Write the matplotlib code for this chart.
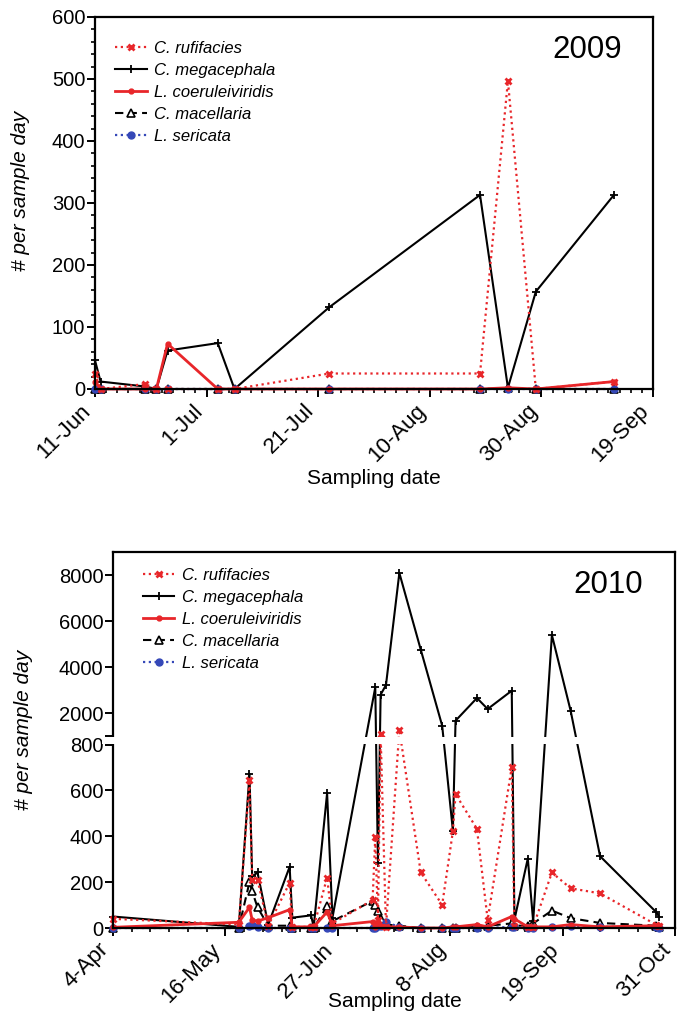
import numpy as np
import matplotlib
matplotlib.use('Agg')
import matplotlib.pyplot as plt
import matplotlib.dates as mdates
from matplotlib.patches import Rectangle
from matplotlib.ticker import FixedLocator, NullLocator
from matplotlib.transforms import blended_transform_factory

plt.rcParams['font.family'] = ['Liberation Sans', 'DejaVu Sans']

nan = np.nan
species = ['C. rufifacies', 'C. megacephala', 'L. coeruleiviridis', 'C. macellaria', 'L. sericata']

# ---------------- 2009 ----------------
dates_2009 = ['2009-06-11', '2009-06-12', '2009-06-20', '2009-06-22', '2009-06-24', '2009-07-03',
              '2009-07-06', '2009-07-23', '2009-08-19', '2009-08-24', '2009-08-29', '2009-09-12']
rufifacies_2009 = [25, 0, 8, 0, 0, 0, 0, 25, 25, 497, 0, 12]
megacephala_2009 = [46, 12, 4, 0, 62, 74, 0, 132, 313, 2, 157, 313]
coeruleiviridis_2009 = [12, 0, 0, 0, 73, 0, 0, 0, 0, 2, 0, 12]
macellaria_2009 = [0, 0, 0, 0, 0, 0, 0, 0, 0, 1, 0, 0]
sericata_2009 = [0, 0, 0, 0, 0, 0, 0, 0, 0, 0, 0, 0]
xticks_2009 = ['2009-06-11', '2009-07-01', '2009-07-21', '2009-08-10', '2009-08-30', '2009-09-19']
xticklabels_2009 = ['11-Jun', '1-Jul', '21-Jul', '10-Aug', '30-Aug', '19-Sep']
yticks_2009 = [0, 100, 200, 300, 400, 500, 600]

# ---------------- 2010 ----------------
dates_2010 = ['2010-04-04', '2010-05-21', '2010-05-25', '2010-05-26', '2010-05-28', '2010-06-01',
              '2010-06-09', '2010-06-10', '2010-06-17', '2010-06-18', '2010-06-23', '2010-06-25',
              '2010-07-10', '2010-07-11', '2010-07-12', '2010-07-13', '2010-07-15', '2010-07-20',
              '2010-07-28', '2010-08-05', '2010-08-09', '2010-08-10', '2010-08-18', '2010-08-22',
              '2010-08-31', '2010-09-01', '2010-09-06', '2010-09-08', '2010-09-15', '2010-09-22',
              '2010-10-03', '2010-10-24', '2010-10-25']
megacephala_2010 = [50, 5, 672, 225, 242, 15, 267, 45, 55, 5, 588, 45,
                    nan, 3116, 284, 2797, 3217, 8087, 4754, 1449, 425, 1667, 2652, 2174,
                    2971, 36, 303, 29, 5391, 2101, 313, 69, 50]
rufifacies_2010 = [40, 15, 644, 209, 209, 10, 197, 5, 5, 5, 220, 20,
                   122, 396, 36, 1090, 5, 1275, 242, 101, 421, 584, 432, 36,
                   702, 7, 5, 5, 242, 173, 151, 14, 7]
coeruleiviridis_2010 = [3, 25, 90, 35, 30, 45, 80, 5, 5, 5, 70, 10,
                        28, 5, 20, 10, 5, 5, 0, 0, 5, 5, 15, 5,
                        50, 40, 5, 5, 5, 15, 5, 10, 10]
macellaria_2010 = [0, 0, 200, 160, 90, 10, 10, 0, 0, 0, 95, 30,
                   118, 100, 75, 40, 15, 10, 0, 0, 0, 0, 5, 10,
                   20, 10, 10, 20, 76, 43, 22, 10, 5]
sericata_2010 = [0, 0, 10, 15, 5, 0, 0, 0, 0, 0, 0, 0,
                 0, 0, 10, 10, 25, 5, 0, 0, 0, 0, 0, 0,
                 5, 5, 0, 0, 5, 10, 5, 5, 0]
xticks_2010 = ['2010-04-04', '2010-05-16', '2010-06-27', '2010-08-08', '2010-09-19', '2010-10-31']
xticklabels_2010 = ['4-Apr', '16-May', '27-Jun', '8-Aug', '19-Sep', '31-Oct']
yticks_2010 = [0, 200, 400, 600, 800, 2000, 4000, 6000, 8000]
yticklabels_2010 = ['0', '200', '400', '600', '800', '2000', '4000', '6000', '8000']

# ---------------- styles ----------------
RED = '#e8262a'
BLUE = '#3548b8'
styles = {
    'C. rufifacies': dict(color=RED, ls=(0, (1, 1.6)), lw=1.6, marker='x', ms=5, mew=2.0, zorder=2.4),
    'C. megacephala': dict(color='black', ls='-', lw=1.5, marker='+', ms=6, mew=1.3, zorder=2.2),
    'L. coeruleiviridis': dict(color=RED, ls='-', lw=2.0, marker='o', ms=3.5, mew=1, zorder=2.5),
    'C. macellaria': dict(color='black', ls=(0, (4, 2.5)), lw=1.5, marker='^', ms=5.5, mew=1.2,
                          mfc='white', zorder=2.1),
    'L. sericata': dict(color=BLUE, ls=(0, (1, 1.6)), lw=1.6, marker='o', ms=5, mew=1, zorder=2.3),
}

fig = plt.figure(figsize=(6.78, 10.23), dpi=100)
W, H = 678.0, 1023.0


def add_axes(left, top, right, bottom):
    return fig.add_axes([left / W, 1 - bottom / H, (right - left) / W, (bottom - top) / H])


def plot_series(ax, dates, series_list):
    x = mdates.datestr2num(dates)
    handles = []
    for name, vals in zip(species, series_list):
        v = np.asarray(vals, float)
        m = np.isfinite(v)
        h, = ax.plot(x[m], v[m], clip_on=False, label=name, **styles[name])
        handles.append(h)
    return handles


def style_axes(ax, xticks, xticklabels, minor_step, start, end):
    for s in ax.spines.values():
        s.set_linewidth(1.6)
    xs = mdates.datestr2num(xticks)
    ax.xaxis.set_major_locator(FixedLocator(xs))
    ax.set_xticklabels(xticklabels, rotation=45, ha='right', va='top', rotation_mode='default',
                       fontsize=16)
    x0, x1 = mdates.datestr2num([start, end])
    ax.set_xlim(x0, x1)
    ax.xaxis.set_minor_locator(FixedLocator(np.arange(x0, x1 + 0.1, minor_step)))
    ax.tick_params(axis='both', which='major', length=6, width=1.4, direction='out')
    ax.tick_params(axis='y', which='major', labelsize=14.5)
    ax.tick_params(axis='both', which='minor', length=3, width=1.2, direction='out')
    ax.tick_params(axis='x', which='major', pad=2)
    ax.tick_params(axis='y', which='major', pad=1)


# ---------------- 2009 panel ----------------
ax1 = add_axes(95, 17, 653, 389)
h1 = plot_series(ax1, dates_2009, [rufifacies_2009, megacephala_2009, coeruleiviridis_2009,
                                   macellaria_2009, sericata_2009])
ax1.set_ylim(0, 600)
ax1.yaxis.set_major_locator(FixedLocator(yticks_2009))
ax1.yaxis.set_minor_locator(FixedLocator(np.arange(0, 601, 20)))
style_axes(ax1, xticks_2009, xticklabels_2009, 2, '2009-06-11', '2009-09-19')
ax1.set_ylabel('# per sample day', fontsize=15, style='italic')
ax1.yaxis.set_label_coords(-0.116, 0.532)
ax1.set_xlabel('Sampling date', fontsize=15)
ax1.xaxis.set_label_coords(0.5, -0.215)
ax1.text(0.882, 0.91, '2009', transform=ax1.transAxes, fontsize=22.5, ha='center', va='center')
ax1.legend(handles=h1, loc='upper left', bbox_to_anchor=(0.036, 0.935), frameon=False,
           prop=dict(size=12, style='italic'), handlelength=1.9, handletextpad=0.45,
           labelspacing=0.42, borderpad=0, borderaxespad=0, numpoints=1)

# ---------------- 2010 panel (broken y axis) ----------------
GAP = 37.0
UP = 0.1003


def fwd(y):
    y = np.asarray(y, float)
    return np.where(y <= 800, y,
                    np.where(y < 1000, 800 + (y - 800) * GAP / 200.0, 800 + GAP + (y - 1000) * UP))


def inv(t):
    t = np.asarray(t, float)
    return np.where(t <= 800, t,
                    np.where(t < 800 + GAP, 800 + (t - 800) * 200.0 / GAP, 1000 + (t - 800 - GAP) / UP))


ax2 = add_axes(113, 552, 675, 928)
ax2.set_yscale('function', functions=(fwd, inv))
h2 = plot_series(ax2, dates_2010, [rufifacies_2010, megacephala_2010, coeruleiviridis_2010,
                                   macellaria_2010, sericata_2010])
ax2.set_ylim(0, 9000)
ax2.yaxis.set_major_locator(FixedLocator(yticks_2010 + [1000]))
ax2.set_yticklabels(yticklabels_2010 + [''])
ax2.yaxis.set_minor_locator(NullLocator())
style_axes(ax2, xticks_2010, xticklabels_2010, 7, '2010-04-04', '2010-10-31')
# break band
bt = blended_transform_factory(ax2.transAxes, ax2.transData)
ax2.add_patch(Rectangle((-0.02, 822), 1.016, 160, transform=bt, facecolor='white',
                        edgecolor='none', zorder=6, clip_on=False))
ax2.set_ylabel('# per sample day', fontsize=15, style='italic')
ax2.yaxis.set_label_coords(-0.143, 0.527)
ax2.set_xlabel('Sampling date', fontsize=15)
ax2.xaxis.set_label_coords(0.502, -0.17)
ax2.text(0.881, 0.912, '2010', transform=ax2.transAxes, fontsize=22.5, ha='center', va='center')
ax2.legend(handles=h2, loc='upper left', bbox_to_anchor=(0.053, 0.957), frameon=False,
           prop=dict(size=12, style='italic'), handlelength=1.9, handletextpad=0.45,
           labelspacing=0.42, borderpad=0, borderaxespad=0, numpoints=1)

fig.savefig('out.png', dpi=100)
